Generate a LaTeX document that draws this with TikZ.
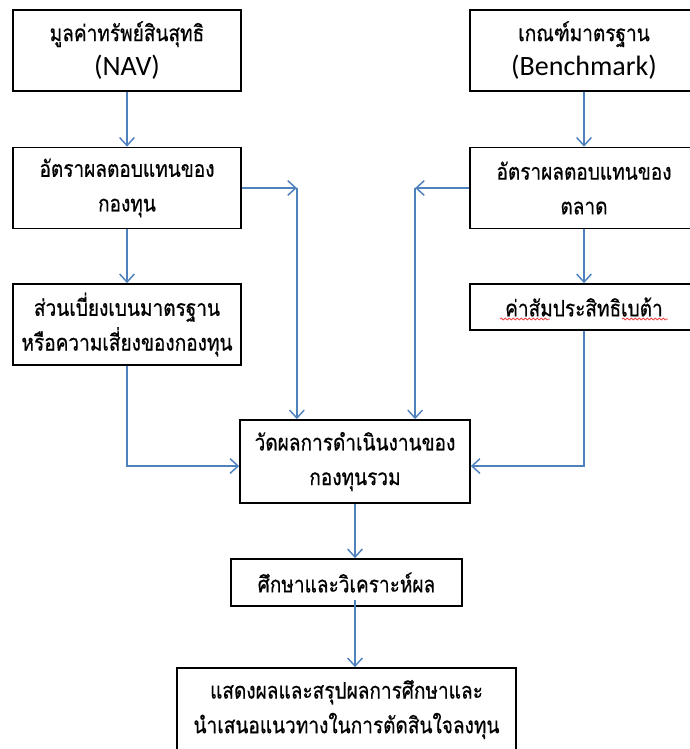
\documentclass[tikz,border=0pt]{standalone}
\usepackage{fontspec}
\newfontfamily\thaifont[Script=Thai,FakeStretch=0.84,FakeBold=0.6]{Loma}
\newfontfamily\latinfont{Carlito}
\usetikzlibrary{arrows.meta,decorations.pathmorphing}
\definecolor{flowblue}{RGB}{79,129,189}
\definecolor{wavered}{RGB}{235,70,70}

\tikzset{
  stage/.style={draw=black, line width=1.3pt, minimum width=171pt, minimum height=60.75pt,
    inner sep=0pt, align=center, font=\thaifont\fontsize{17}{26}\selectfont},
  flow/.style={draw=flowblue, line width=1.1pt,
    -{Straight Barb[length=6pt,width=11pt,line width=1.1pt]}},
  spell/.style={draw=wavered, line width=0.6pt, decorate,
    decoration={snake, amplitude=0.7pt, segment length=3pt}},
}

\begin{document}
\begin{tikzpicture}[x=0.75pt,y=0.75pt,yscale=-1,xscale=1]
\useasboundingbox (0,0) rectangle (689,749);

% left column: fund side
\node[stage] (nav) at (127,50.5) {มูลค่าทรัพย์สินสุทธิ\\{\latinfont\fontsize{21}{26}\selectfont (NAV)}};
\node[stage] (fundret) at (127,188) {อัตราผลตอบแทนของ\\กองทุน};
\node[stage] (sd) at (127,324.5) {ส่วนเบี่ยงเบนมาตรฐาน\\หรือความเสี่ยงของกองทุน};

% right column: market side
\node[stage] (bench) at (584,50.5) {เกณฑ์มาตรฐาน\\{\latinfont\fontsize{21}{26}\selectfont (Benchmark)}};
\node[stage] (mktret) at (584,188) {อัตราผลตอบแทนของ\\ตลาด};
\node[stage, minimum height=34.5pt] (beta) at (584,307) {ค่าสัมประสิทธิเบต้า};

% centre column
\node[stage, minimum width=172.5pt, minimum height=62.25pt] (perf) at (355,461.5) {วัดผลการดำเนินงานของ\\กองทุนรวม};
\node[stage, minimum width=173.25pt, minimum height=35.25pt] (study) at (346.5,582.5) {ศึกษาและวิเคราะห์ผล};
\node[stage, minimum width=254.25pt, minimum height=62.25pt] (concl) at (346.5,709.5) {แสดงผลและสรุปผลการศึกษาและ\\นำเสนอแนวทางในการตัดสินใจลงทุน};

% spelling marks under the beta label
\draw[spell] (500,319) -- (550,319);
\draw[spell] (622,319) -- (668,319);

\coordinate (fundturn) at ([xshift=41.25pt]fundret.east);
\coordinate (mktturn) at ([xshift=-40.5pt]mktret.west);

\draw[flow] (nav) -- (fundret);
\draw[flow] (fundret) -- (sd);
\draw[flow] (bench) -- (mktret);
\draw[flow] (mktret) -- (beta);

\draw[flow] (fundret.east) -- (fundturn);
\draw[flow] (fundturn) -- (fundturn |- perf.north);
\draw[flow] (mktret.west) -- (mktturn);
\draw[flow] (mktturn) -- (mktturn |- perf.north);

\draw[flow] (sd.south) |- ([yshift=3.4pt]perf.west);
\draw[flow] (beta.south) |- ([yshift=3.4pt]perf.east);

\draw[flow] (perf.south) -- (perf.south |- study.north);
\draw[flow] ([yshift=-5pt]study.south -| perf.south) -- (perf.south |- concl.north);

\end{tikzpicture}
\end{document}
